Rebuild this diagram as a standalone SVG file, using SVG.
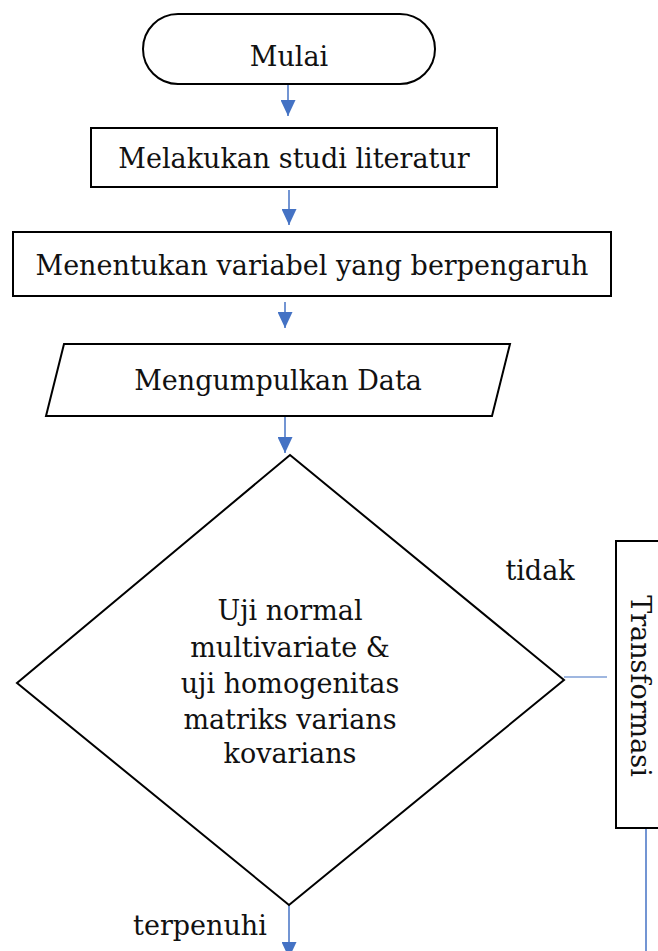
<svg xmlns="http://www.w3.org/2000/svg" width="658" height="951" viewBox="0 0 658 951">
<defs>
<style>
.n{fill:#fff;stroke:#000;stroke-width:2}
.t{font-family:"DejaVu Serif","Liberation Serif",serif;font-size:27px;fill:#111;text-anchor:middle}
.c{stroke:#4472C4;stroke-width:1.5;fill:none}
</style>
<marker id="ah" viewBox="0 0 10 10" refX="10" refY="5" markerWidth="16" markerHeight="15" markerUnits="userSpaceOnUse" orient="auto" preserveAspectRatio="none">
<path d="M0,0 L10,5 L0,10 z" fill="#4472C4"/>
</marker>
</defs>
<rect width="658" height="951" fill="#fff"/>
<g id="connectors">
<line class="c" x1="288" y1="84" x2="288" y2="116" marker-end="url(#ah)"/>
<line class="c" x1="289" y1="190" x2="289" y2="225" marker-end="url(#ah)"/>
<line class="c" x1="285" y1="302" x2="285" y2="328" marker-end="url(#ah)"/>
<line class="c" x1="285" y1="416" x2="285" y2="453" marker-end="url(#ah)"/>
<line class="c" x1="564" y1="677" x2="607" y2="677" style="stroke:#7f9fd6"/>
<line class="c" x1="646" y1="829" x2="646" y2="951"/>
<line class="c" x1="289" y1="905" x2="289" y2="958" marker-end="url(#ah)"/>
</g>
<g id="mulai">
<rect class="n" x="143" y="14" width="292" height="70" rx="35" ry="35"/>
<text class="t" x="289" y="66">Mulai</text>
</g>
<g id="studi">
<rect class="n" x="91" y="128" width="406" height="59"/>
<text class="t" x="294" y="168">Melakukan studi literatur</text>
</g>
<g id="variabel">
<rect class="n" x="13" y="232" width="598" height="64"/>
<text class="t" x="312" y="275">Menentukan variabel yang berpengaruh</text>
</g>
<g id="data">
<polygon class="n" points="64,344 510,344 492,416 46,416"/>
<text class="t" x="278" y="390">Mengumpulkan Data</text>
</g>
<g id="uji">
<polygon class="n" points="290,455 564,680 289,905 17,683"/>
<text class="t" x="290" y="620">Uji normal</text>
<text class="t" x="290" y="657">multivariate &amp;</text>
<text class="t" x="290" y="693">uji homogenitas</text>
<text class="t" x="290" y="729">matriks varians</text>
<text class="t" x="290" y="763">kovarians</text>
</g>
<g id="transformasi">
<rect class="n" x="616" y="541" width="60" height="287"/>
<text class="t" transform="translate(631,686) rotate(90)">Transformasi</text>
</g>
<g id="labels">
<text class="t" x="540" y="580">tidak</text>
<text class="t" x="200" y="935">terpenuhi</text>
</g>
</svg>
